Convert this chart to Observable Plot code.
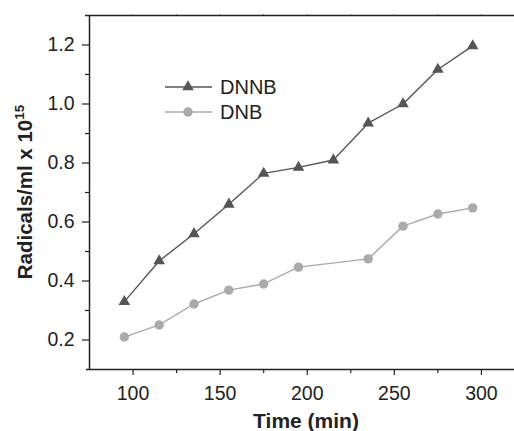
<!DOCTYPE html>
<html><head><meta charset="utf-8">
<script src="https://cdn.jsdelivr.net/npm/d3@7"></script>
<script src="https://cdn.jsdelivr.net/npm/@observablehq/plot@0.6"></script>
<style>body{margin:0;background:#fff} svg{display:block}</style>
</head><body><div id="chart"></div>
<script>
const times = [95,115,135,155,175,195,215,235,255,275,295];
const dnnb = [0.33,0.468,0.56,0.66,0.765,0.785,0.81,0.935,1.0,1.117,1.197];
const dnbTimes = [95,115,135,155,175,195,235,255,275,295];
const dnb = [0.21,0.251,0.322,0.369,0.39,0.447,0.475,0.586,0.627,0.648];
const xMajor = [100,150,200,250,300];
const xMinor = [125,175,225,275];
const yMajor = [0.2,0.4,0.6,0.8,1.0,1.2];
const yMinor = [0.3,0.5,0.7,0.9,1.1];
const seriesNames = ["DNNB","DNB"];
const seriesColors = ["#555555","#aaaaaa"];
const seriesSymbols = ["triangle","circle"];
const xLabel = "Time (min)";
const yLabel = "Radicals/ml x 10";
const yLabelSup = "15";

const dataA = times.map((t,i)=>({t, v: dnnb[i]}));
const dataB = dnbTimes.map((t,i)=>({t, v: dnb[i]}));
const axisColor = "#222";
const font = "'Liberation Sans', Arial, sans-serif";

const plot = Plot.plot({
  width: 514, height: 431,
  marginLeft: 89, marginRight: 0, marginTop: 15, marginBottom: 62,
  style: {fontFamily: font, color: axisColor, background: "#fff"},
  x: {domain: [75, 319], label: null},
  y: {domain: [0.1, 1.3], label: null},
  marks: [
    Plot.axisY(yMajor, {tickSize: 7, tickPadding: 8, tickFormat: d => d.toFixed(1), fontSize: 19.5, stroke: axisColor, fill: axisColor, strokeWidth: 1.2}),
    Plot.axisY(yMinor, {tickSize: 4, text: null, stroke: axisColor, strokeWidth: 1.2}),
    Plot.axisX(xMajor, {tickSize: 6, tickPadding: 11, fontSize: 19.5, stroke: axisColor, fill: axisColor, strokeWidth: 1.2}),
    Plot.axisX(xMinor, {tickSize: 4, text: null, stroke: axisColor, strokeWidth: 1.2}),
    Plot.axisX([...xMajor, ...xMinor], {anchor: "top", tickSize: 2, text: null, stroke: "#888", strokeWidth: 1}),
    Plot.ruleX([75], {stroke: axisColor, strokeWidth: 1.5}),
    Plot.ruleY([0.1], {stroke: axisColor, strokeWidth: 1.5, insetLeft: -3}),
    Plot.ruleY([1.3], {stroke: axisColor, strokeWidth: 1.5, insetLeft: -4}),
    Plot.line(dataB, {x: "t", y: "v", stroke: seriesColors[1], strokeWidth: 1.4}),
    Plot.dot(dataB, {x: "t", y: "v", fill: seriesColors[1], r: 4.7, symbol: seriesSymbols[1]}),
    Plot.line(dataA, {x: "t", y: "v", stroke: seriesColors[0], strokeWidth: 1.4}),
    Plot.dot(dataA, {x: "t", y: "v", fill: seriesColors[0], r: 4.3, symbol: seriesSymbols[0]})
  ]
});

const svg = d3.select(plot);
// axis titles
svg.append("text")
  .attr("x", 306).attr("y", 428)
  .attr("text-anchor", "middle")
  .attr("font-family", font).attr("font-size", 21).attr("font-weight", "bold")
  .attr("fill", axisColor)
  .text(xLabel);
const yl = svg.append("text")
  .attr("transform", "translate(32,192) rotate(-90)")
  .attr("text-anchor", "middle")
  .attr("font-family", font).attr("font-size", 20.5).attr("font-weight", "bold")
  .attr("fill", axisColor);
yl.append("tspan").text(yLabel);
yl.append("tspan").attr("font-size", 13.5).attr("dy", -8).text(yLabelSup);

// legend
const leg = svg.append("g").attr("font-family", font).attr("text-anchor", "start");
const symGen = [d3.symbolTriangle, d3.symbolCircle];
const rs = [4.3, 4.7];
seriesNames.forEach((name, i) => {
  const y = 87 + i * 25;
  leg.append("line").attr("x1", 165).attr("x2", 212).attr("y1", y).attr("y2", y)
    .attr("stroke", seriesColors[i]).attr("stroke-width", 1.4);
  leg.append("path").attr("transform", `translate(188,${y})`)
    .attr("d", d3.symbol(symGen[i], Math.PI * rs[i] * rs[i])())
    .attr("fill", seriesColors[i]);
  leg.append("text").attr("x", 220).attr("y", y).attr("dy", "0.36em")
    .attr("text-anchor", "start")
    .attr("font-size", 20).attr("fill", axisColor).text(name);
});

document.getElementById("chart").appendChild(plot);
</script>
</body></html>
